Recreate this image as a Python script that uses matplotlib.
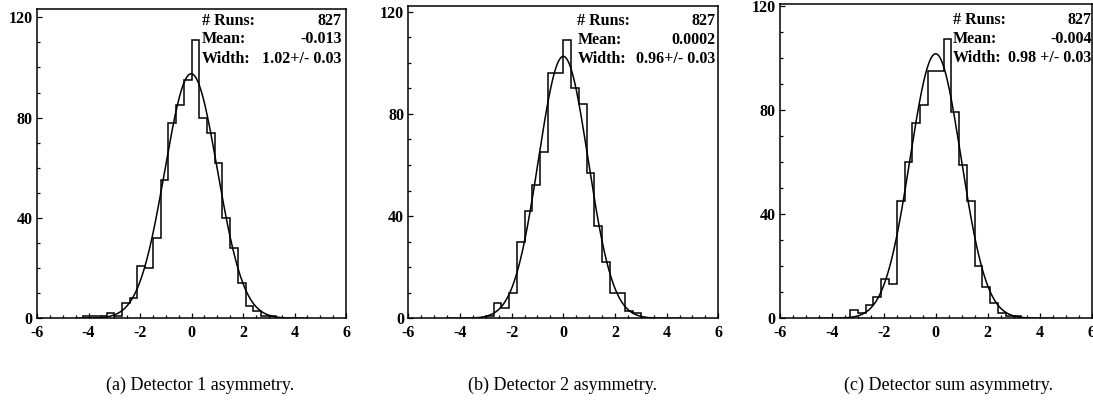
import numpy as np
import matplotlib
matplotlib.use("Agg")
import matplotlib.pyplot as plt
from matplotlib.ticker import MultipleLocator

plt.rcParams["axes.unicode_minus"] = False

# bin left edges (width 0.3) and counts
edges1 = [-4.2, -3.9, -3.6, -3.3, -3.0, -2.7, -2.4, -2.1, -1.8, -1.5, -1.2, -0.9, -0.6,
          -0.3, 0.0, 0.3, 0.6, 0.9, 1.2, 1.5, 1.8, 2.1, 2.4, 2.7, 3.0, 3.3]
counts1 = [1, 1, 1, 2, 1, 6, 8, 21, 20, 32, 55, 78, 85, 95, 111, 80, 74, 62, 40, 28,
           14, 5, 3, 1, 1]

edges2 = [-3.0, -2.7, -2.4, -2.1, -1.8, -1.5, -1.2, -0.9, -0.6, -0.3, 0.0, 0.3, 0.6,
          0.9, 1.2, 1.5, 1.8, 2.1, 2.4, 2.7, 3.0]
counts2 = [1, 6, 4, 10, 30, 42, 52, 65, 96, 96, 109, 90, 84, 57, 36, 22, 10, 10, 3, 2]

edges3 = [-3.3, -3.0, -2.7, -2.4, -2.1, -1.8, -1.5, -1.2, -0.9, -0.6, -0.3, 0.0, 0.3,
          0.6, 0.9, 1.2, 1.5, 1.8, 2.1, 2.4, 2.7, 3.0, 3.3]
counts3 = [3, 2, 5, 8, 15, 13, 45, 60, 75, 82, 95, 95, 107, 79, 59, 45, 20, 12, 6, 2,
           1, 1]

# gaussian fit: mean, width, peak height
fit_mean = [-0.013, 0.0002, -0.004]
fit_width = [1.02, 0.96, 0.98]
fit_peak = [97.5, 102.5, 101.5]

runs = ["827", "827", "827"]
means = ["-0.013", "0.0002", "-0.004"]
widths = ["1.02+/- 0.03", "0.96+/- 0.03", "0.98 +/- 0.03"]
captions = ["(a) Detector 1 asymmetry.", "(b) Detector 2 asymmetry.",
            "(c) Detector sum asymmetry."]
ymax = [123.5, 122.2, 120.8]

W, H = 1093, 404
fig = plt.figure(figsize=(W / 100, H / 100), dpi=100)

# axes boxes in pixels: left, right, top, bottom
boxes = [(37, 346, 8.5, 318.3), (408.3, 718.3, 6, 318.3), (780, 1091.5, 3.5, 318.3)]
text_x = [(201.7, 341.7), (577.3, 715), (952.7, 1091.7)]
text_y = [(20.7, 39.3, 59.3), (20.7, 40, 59.3), (20, 39.3, 58.3)]
cap_x = [200, 562, 948]

font = dict(family="Liberation Serif", weight="bold")

data = [(edges1, counts1), (edges2, counts2), (edges3, counts3)]
for i, (edges, counts) in enumerate(data):
    l, r, t, b = boxes[i]
    ax = fig.add_axes([l / W, 1 - b / H, (r - l) / W, (b - t) / H])
    ax.stairs(counts, edges, color="black", lw=1.1, baseline=0)
    xs = np.linspace(-4.5, 4.5, 400)
    ax.plot(xs, fit_peak[i] * np.exp(-0.5 * ((xs - fit_mean[i]) / fit_width[i]) ** 2),
            color="black", lw=1.1)
    ax.set_xlim(-6, 6)
    ax.set_ylim(0, ymax[i])
    ax.xaxis.set_major_locator(MultipleLocator(2))
    ax.xaxis.set_minor_locator(MultipleLocator(0.5))
    ax.yaxis.set_major_locator(MultipleLocator(40))
    ax.yaxis.set_minor_locator(MultipleLocator(10))
    ax.tick_params(which="both", direction="in", top=False, right=False, width=0.9)
    ax.tick_params(which="major", length=3.5, pad=3)
    ax.tick_params(which="minor", length=2)
    ax.tick_params(axis="x", which="major", pad=5)
    for s in ax.spines.values():
        s.set_linewidth(1.1)
    for lab in ax.get_xticklabels() + ax.get_yticklabels():
        lab.set_fontfamily("Liberation Serif")
        lab.set_fontweight("bold")
        lab.set_fontsize(11.5)

    x0, x1 = text_x[i]
    rows = [("# Runs:", runs[i]), ("Mean:", means[i]), ("Width:", widths[i])]
    for (name, val), yy in zip(rows, text_y[i]):
        fig.text(x0 / W, 1 - yy / H, name, ha="left", va="center", fontsize=11.5, **font)
        fig.text(x1 / W, 1 - yy / H, val, ha="right", va="center", fontsize=11.5, **font)

    fig.text(cap_x[i] / W, 1 - 385 / H, captions[i], ha="center", va="center",
             fontsize=13, family="Liberation Serif")

fig.savefig("out.png", dpi=100)
